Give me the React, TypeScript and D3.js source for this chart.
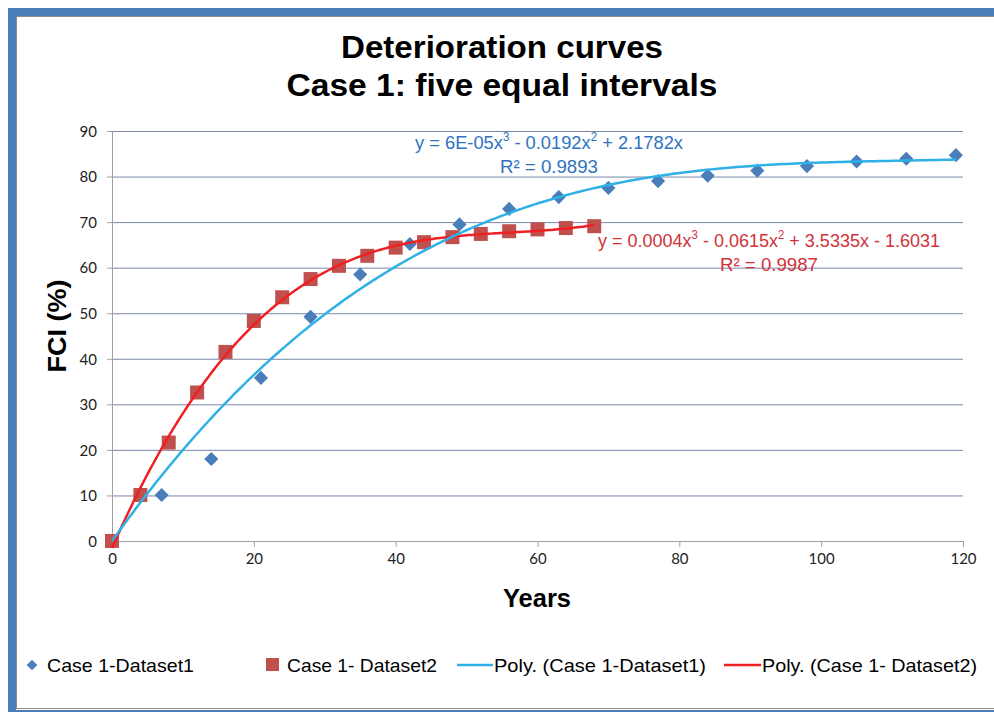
import React from "react";
import * as d3 from "d3";

const years1 = [0, 7, 14, 21, 28, 35, 42, 49, 56, 63, 70, 77, 84, 91, 98, 105, 112, 119];
const fci1 = [0, 10.1, 18.0, 35.8, 49.2, 58.5, 65.2, 69.5, 72.9, 75.5, 77.5, 79.0, 80.2, 81.3, 82.3, 83.3, 83.9, 84.7];

const years2 = [0, 4, 8, 12, 16, 20, 24, 28, 32, 36, 40, 44, 48, 52, 56, 60, 64, 68];
const fci2 = [0, 10.1, 21.6, 32.6, 41.5, 48.3, 53.5, 57.5, 60.4, 62.6, 64.4, 65.6, 66.7, 67.4, 68.0, 68.4, 68.7, 69.1];

const xTicks = [0, 20, 40, 60, 80, 100, 120];
const yTicks = [0, 10, 20, 30, 40, 50, 60, 70, 80, 90];

const title = ["Deterioration curves", "Case 1: five equal intervals"];
const seriesNames = ["Case 1-Dataset1", "Case 1- Dataset2", "Poly. (Case 1-Dataset1)", "Poly. (Case 1- Dataset2)"];

const blue = "#4a7ebb";
const red = "#c0504d";
const trendBlue = "#2fb0e6";
const trendRed = "#ee2024";

// least squares fit for the given powers of x (Excel style trendline)
function polyFit(xs: number[], ys: number[], powers: number[]) {
  const n = powers.length;
  const a = powers.map((p) => powers.map((q) => d3.sum(xs, (x) => Math.pow(x, p + q))));
  const b = powers.map((p) => d3.sum(xs, (x, i) => Math.pow(x, p) * ys[i]));
  for (let i = 0; i < n; i++) {
    let piv = i;
    for (let r = i + 1; r < n; r++) if (Math.abs(a[r][i]) > Math.abs(a[piv][i])) piv = r;
    [a[i], a[piv]] = [a[piv], a[i]];
    [b[i], b[piv]] = [b[piv], b[i]];
    for (let r = i + 1; r < n; r++) {
      const f = a[r][i] / a[i][i];
      for (let c = i; c < n; c++) a[r][c] -= f * a[i][c];
      b[r] -= f * b[i];
    }
  }
  const coef = new Array(n).fill(0);
  for (let i = n - 1; i >= 0; i--) {
    let s = b[i];
    for (let c = i + 1; c < n; c++) s -= a[i][c] * coef[c];
    coef[i] = s / a[i][i];
  }
  return (x: number) => d3.sum(powers, (p, i) => coef[i] * Math.pow(x, p));
}

const Eq = ({ x, y, color, len, parts }: { x: number; y: number; color: string; len: number; parts: [string, string][] }) => (
  <text
    x={x}
    y={y}
    textAnchor="middle"
    fill={color}
    fontSize={19}
    fontFamily="Liberation Sans, Arial, sans-serif"
    textLength={len}
    lengthAdjust="spacingAndGlyphs"
  >
    {parts.map(([t, sup], i) => (
      <React.Fragment key={i}>
        <tspan>{t}</tspan>
        {sup && (
          <tspan fontSize={12} dy={-8}>
            {sup}
          </tspan>
        )}
        {sup && <tspan dy={8}> </tspan>}
      </React.Fragment>
    ))}
  </text>
);

const App = () => {
  const width = 994;
  const height = 712;
  const margin = { top: 131, right: 31, bottom: 171, left: 112 };
  const innerWidth = width - margin.left - margin.right;
  const innerHeight = height - margin.top - margin.bottom;

  const xScale = d3.scaleLinear().domain([0, 120]).range([0, innerWidth]);
  const yScale = d3.scaleLinear().domain([0, 90]).range([innerHeight, 0]);

  const fit1 = polyFit(years1, fci1, [1, 2, 3]);
  const fit2 = polyFit(years2, fci2, [0, 1, 2, 3]);

  const line = d3
    .line<number[]>()
    .x((d) => xScale(d[0]))
    .y((d) => yScale(d[1]));

  const sample = (f: (x: number) => number, lo: number, hi: number) =>
    d3.range(0, 201).map((i) => {
      const x = lo + ((hi - lo) * i) / 200;
      return [x, f(x)];
    });

  const diamond = d3.symbol(d3.symbolSquare, 100)();
  const square = d3.symbol(d3.symbolSquare, 196)();

  const font = "Liberation Sans, Arial, sans-serif";
  const tickFont = "Lato, Carlito, sans-serif";
  const legendLens = [147, 150, 212, 215];
  const legendX = [47, 287, 494, 762];

  return (
    <svg width={width} height={height} style={{ position: "absolute", left: 0, top: 0 }}>
      <rect width={width} height={height} fill="#fff" />
      {/* frame */}
      <rect x={8} y={8} width={width - 8} height={8} fill={blue} />
      <rect x={8} y={8} width={8} height={height - 8} fill={blue} />
      <rect x={16} y={710} width={width - 16} height={2} fill={blue} />
      <line x1={16} x2={width} y1={16.5} y2={16.5} stroke="#8c8c8c" />
      <line x1={16.5} x2={16.5} y1={16} y2={709} stroke="#8c8c8c" />
      <line x1={16} x2={width} y1={708.5} y2={708.5} stroke="#8c8c8c" />

      {title.map((t, i) => (
        <text
          key={t}
          x={502}
          y={58 + i * 38}
          textAnchor="middle"
          fontSize={31}
          fontWeight="bold"
          fontFamily={font}
          textLength={i === 0 ? 322 : 431}
          lengthAdjust="spacingAndGlyphs"
        >
          {t}
        </text>
      ))}

      <g transform={`translate(${margin.left}, ${margin.top})`}>
        {yTicks.map((t) => (
          <g key={t} transform={`translate(0, ${yScale(t) + 0.5})`}>
            <line x1={0} x2={innerWidth} stroke={t === 0 ? "#a0a0a0" : "#7a86aa"} />
            <line x1={-5} x2={0} stroke="#a0a0a0" />
            <text x={-15} dy="0.35em" textAnchor="end" fontSize={15} fontFamily={tickFont} fill="#222">
              {t}
            </text>
          </g>
        ))}
        <line x1={0.5} x2={0.5} y1={0} y2={innerHeight + 5} stroke="#a0a0a0" />
        {xTicks.map((t) => (
          <g key={t} transform={`translate(${xScale(t) + 0.5}, ${innerHeight})`}>
            <line y1={0} y2={6} stroke="#a0a0a0" />
            <text y={23} textAnchor="middle" fontSize={15} fontFamily={tickFont} fill="#222">
              {t}
            </text>
          </g>
        ))}

        {years1.map((x, i) => (
          <path key={"d" + i} d={diamond} fill={blue} transform={`translate(${xScale(x)}, ${yScale(fci1[i])}) rotate(45)`} />
        ))}
        {years2.map((x, i) => (
          <path key={"s" + i} d={square} fill={red} transform={`translate(${xScale(x)}, ${yScale(fci2[i])})`} />
        ))}
        <path d={line(sample(fit2, 0, 68)) || ""} fill="none" stroke={trendRed} strokeWidth={2.5} />
        <path d={line(sample(fit1, 0, 119)) || ""} fill="none" stroke={trendBlue} strokeWidth={2.5} />
      </g>

      <Eq x={549} y={149} len={268} color="#2f73c0" parts={[["y = 6E-05x", "3"], [" - 0.0192x", "2"], [" + 2.1782x", ""]]} />
      <Eq x={549} y={173} len={98} color="#2f73c0" parts={[["R² = 0.9893", ""]]} />
      <Eq x={769} y={247} len={342} color="#d2313a" parts={[["y = 0.0004x", "3"], [" - 0.0615x", "2"], [" + 3.5335x  - 1.6031", ""]]} />
      <Eq x={769} y={271} len={98} color="#d2313a" parts={[["R² = 0.9987", ""]]} />

      <text
        x={537}
        y={607}
        textAnchor="middle"
        fontSize={25}
        fontWeight="bold"
        fontFamily={font}
        textLength={68}
        lengthAdjust="spacingAndGlyphs"
      >
        Years
      </text>
      <text
        transform="translate(66, 326) rotate(-90)"
        textAnchor="middle"
        fontSize={25}
        fontWeight="bold"
        fontFamily={font}
        textLength={93}
        lengthAdjust="spacingAndGlyphs"
      >
        FCI (%)
      </text>

      {/* legend */}
      <g fontSize={19} fontFamily={font}>
        <path d={diamond} fill={blue} transform="translate(32, 665) rotate(45) scale(0.75)" />
        <rect x={266} y={658} width={13} height={13} fill={red} />
        <line x1={457} x2={493} y1={665} y2={665} stroke={trendBlue} strokeWidth={2.5} />
        <line x1={724} x2={761} y1={665} y2={665} stroke={trendRed} strokeWidth={2.5} />
        {seriesNames.map((s, i) => (
          <text key={s} x={legendX[i]} y={672} textLength={legendLens[i]} lengthAdjust="spacingAndGlyphs">
            {s}
          </text>
        ))}
      </g>
    </svg>
  );
};

export default App;
